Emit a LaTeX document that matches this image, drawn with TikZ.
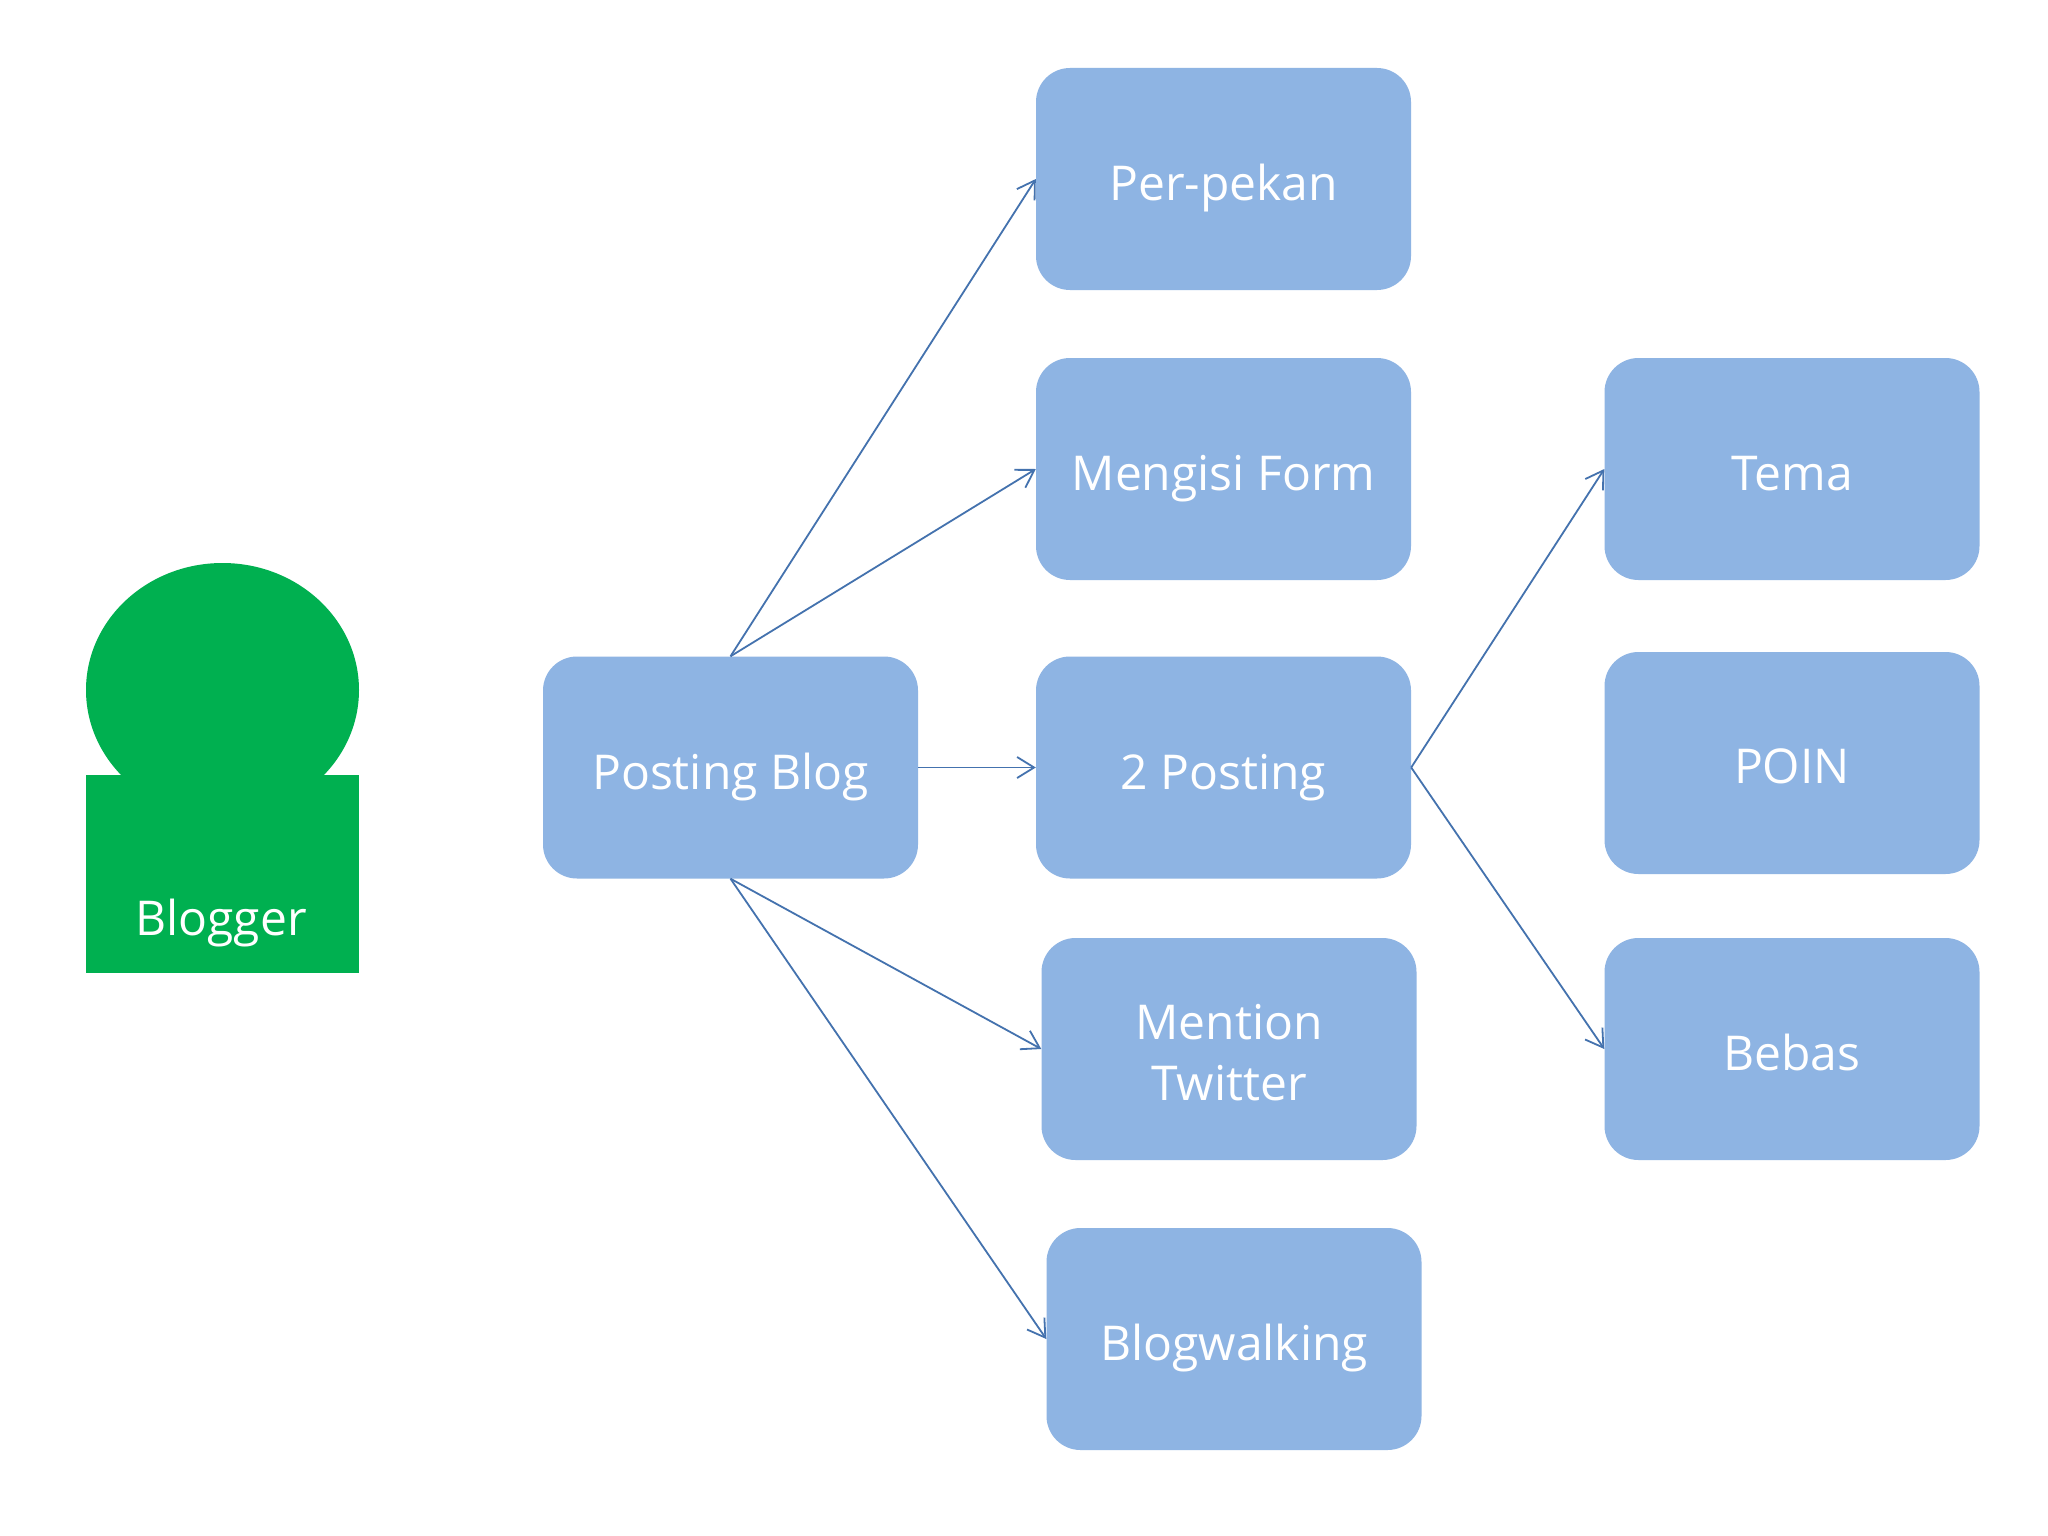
\documentclass[tikz,border=0pt]{standalone}
\usepackage{fontspec}
\setmainfont{Open Sans}
\usetikzlibrary{arrows.meta}
\definecolor{boxfill}{HTML}{8EB4E3}
\definecolor{blog}{HTML}{00B050}
\definecolor{conn}{HTML}{4472AE}
\tikzset{x=1pt,y=-1pt,
 bx/.style={draw=none,fill=boxfill,rounded corners=34pt,minimum width=375pt,minimum height=222pt,inner sep=0pt,text=white,font=\fontsize{48}{61}\selectfont,align=center,text height=43pt,text depth=0pt},
 ar/.style={draw=conn,line width=1.8pt,-{Straight Barb[length=17pt,width=21pt,line width=1.8pt]}}}
\begin{document}
\begin{tikzpicture}
\useasboundingbox (0,0) rectangle (2048,1536);
\fill[white] (0,0) rectangle (2048,1536);
\fill[blog] (222.5,690) ellipse[x radius=136.5,y radius=127];
\fill[blog] (86,775) rectangle (359,973);
\node[text=white,font=\fontsize{48}{61}\selectfont,anchor=base,inner sep=0pt] (blogger) at (221,935) {Blogger};
\node[bx] (pb) at (730.5,767.5) {Posting Blog};
\node[bx] (pk) at (1223.5,179) {Per-pekan};
\node[bx] (mf) at (1223.5,469) {Mengisi Form};
\node[bx] (tp) at (1223.5,767.5) {2 Posting};
\node[bx,text height=103pt] (mt) at (1229,1049) {Mention\\Twitter};
\node[bx] (bw) at (1234,1339) {Blogwalking};
\node[bx] (te) at (1792,469) {Tema};
\node[bx,text height=41pt] (po) at (1792,763) {POIN};
\node[bx] (be) at (1792,1049) {Bebas};
\draw[ar] (pb.north) -- (pk.west);
\draw[ar] (pb.north) -- (mf.west);
\draw[ar] (pb.east) -- (tp.west);
\draw[ar] (pb.south) -- (mt.west);
\draw[ar] (pb.south) -- (bw.west);
\draw[ar] (tp.east) -- (te.west);
\draw[ar] (tp.east) -- (be.west);
\end{tikzpicture}
\end{document}
